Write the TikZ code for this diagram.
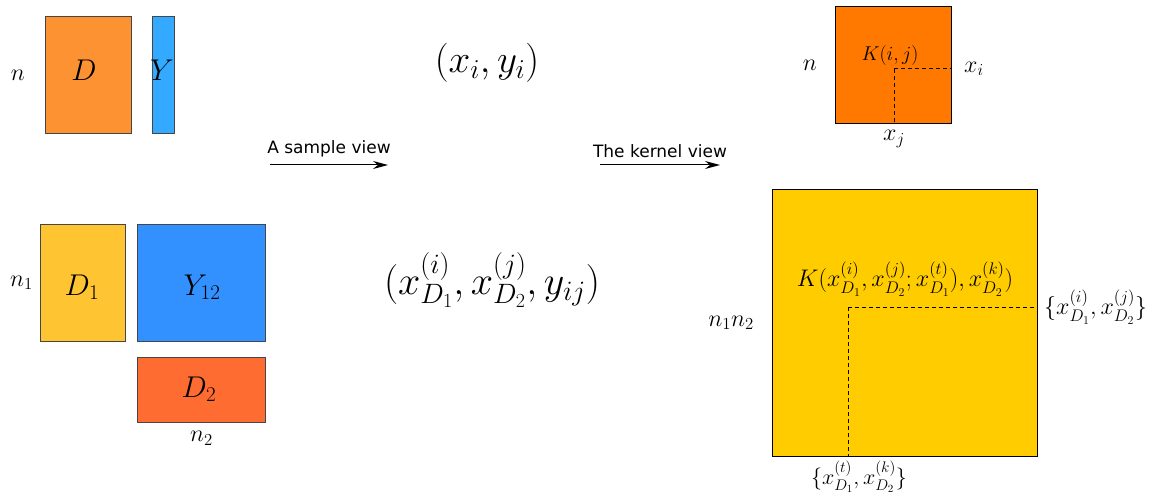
\RequirePackage{fix-cm}
\documentclass[tikz,border=0pt]{standalone}
\usepackage{amsmath}
\usepackage{fontspec}
\newfontfamily\viewfont{DejaVu Sans}
\usetikzlibrary{positioning,arrows.meta,calc}
\definecolor{dorange}{RGB}{253,146,50}
\definecolor{yblue}{RGB}{51,170,255}
\definecolor{dyellow}{RGB}{254,196,50}
\definecolor{yyblue}{RGB}{51,144,255}
\definecolor{dred}{RGB}{255,108,50}
\definecolor{korange}{RGB}{255,121,0}
\definecolor{kyellow}{RGB}{255,204,0}
\definecolor{edgegray}{RGB}{70,70,70}
\tikzset{
  mat/.style   = {draw=edgegray, line width=1pt, inner sep=0pt, anchor=north west},
  kmat/.style  = {draw=black, line width=1pt, inner sep=0pt, anchor=north west},
  mlab/.style  = {inner sep=0pt, font=\fontsize{30}{36}\selectfont},
  dim/.style   = {inner sep=0pt, font=\fontsize{24}{28}\selectfont},
  tup/.style   = {font=\fontsize{39}{46}\selectfont},
  klab/.style  = {inner sep=0pt, font=\fontsize{24}{28}\selectfont},
  view/.style  = {font=\viewfont\fontsize{17}{20}\selectfont},
  flow/.style  = {-{Stealth[length=15pt, width=8pt, inset=5pt]}, line width=1pt},
  grid/.style  = {line width=1pt, dash pattern=on 4pt off 3pt},
}

\begin{document}
\begin{tikzpicture}[x=1pt, y=-1pt]
  \useasboundingbox (0,0) rectangle (1157,497);
  % data, one sample per row
  \node[mat, fill=dorange, minimum width=86pt, minimum height=117pt] (dmat) at (45,16) {};
  \node[mat, fill=yblue, minimum width=22pt, minimum height=117pt] (ymat) at (152,16) {};
  \node[mlab] (dl) at (84,70) {$D$};
  \node[mlab] (yl) at (162,70) {$Y$};
  \node[dim, left=20pt of dmat] (n) {$n$};
  % pairwise data
  \node[mat, fill=dyellow, minimum width=85pt, minimum height=117pt] (d1) at (40,224) {};
  \node[mat, fill=yyblue, minimum width=128pt, minimum height=117pt] (y12) at (137,224) {};
  \node[mat, fill=dred, minimum width=128pt, minimum height=65pt] (d2) at (137,357) {};
  \node[mlab] (d1l) at (82,287) {$D_1$};
  \node[mlab] (y12l) at (202,287) {$Y_{12}$};
  \node[mlab] (d2l) at (199,389) {$D_2$};
  \node[dim, left=7pt of d1] (n1) {$n_1$};
  \node[dim, below=8pt of d2] (n2) {$n_2$};

  \node[tup] (s) at (487,63) {$(x_i, y_i)$};
  \node[tup, font=\fontsize{40}{48}\selectfont] (spair) at (492,280) {$(x^{(i)}_{D_1}, x^{(j)}_{D_2}, y_{ij})$};

  % the two views
  \coordinate (a1) at (270,165); \coordinate (a2) at (388,165);
  \coordinate (b1) at (600,165); \coordinate (b2) at (720,165);
  \draw[flow] (a1) -- (a2);
  \draw[flow] (b1) -- (b2);
  \node[view, above=4pt] (la) at ($(a1)!0.5!(a2)$) {A sample view};
  \node[view, above=4pt] (lb) at ($(b1)!0.5!(b2)$) {The kernel view};

  % kernel, one data set
  \node[kmat, fill=korange, minimum width=116pt, minimum height=117pt] (kmat) at (835,6) {};
  \coordinate (kij) at (894,69);
  \draw[grid] (kij) -- (kmat.east |- kij);
  \draw[grid] (kij) -- (kij |- kmat.south);
  \node[klab, font=\fontsize{20}{24}\selectfont] (kl) at (890,56) {$K(i,j)$};
  \node[klab, right=12pt of kmat.east |- kij] (xi) {$x_i$};
  \node[klab, below=6pt of kij |- kmat.south] (xj) {$x_j$};
  \node[dim, left=18pt of kmat] (nk) {$n$};

  % kernel, pairs
  \node[kmat, fill=kyellow, minimum width=265pt, minimum height=267pt] (kbig) at (772,189) {};
  \coordinate (kp) at (848,307);
  \draw[grid] (kp) -- (kbig.east |- kp);
  \draw[grid] (kp) -- (kp |- kbig.south);
  \node[klab] (kbl) at (905,279) {$K(x^{(i)}_{D_1}, x^{(j)}_{D_2}; x^{(t)}_{D_1}), x^{(k)}_{D_2})$};
  \node[klab, right=6pt of kbig.east |- kp] (pij) {$\{x^{(i)}_{D_1}, x^{(j)}_{D_2}\}$};
  \node[klab, font=\fontsize{22}{26}\selectfont, below=4pt of kp |- kbig.south, xshift=11pt] (ptk) {$\{x^{(t)}_{D_1}, x^{(k)}_{D_2}\}$};
  \node[dim, left=18pt of kbig] (n12) {$n_1 n_2$};
\end{tikzpicture}
\end{document}
